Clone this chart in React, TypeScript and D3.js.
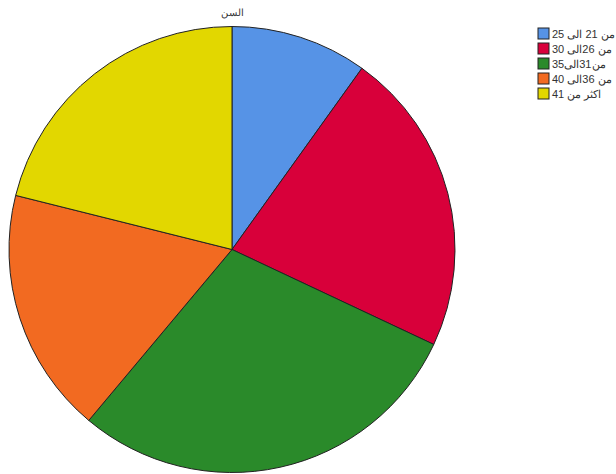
import React from "react";
import * as d3 from "d3";

const categories = ["من 21 الى 25", "من 26الى 30", "من31الى35", "من 36الى 40", "اكثر من 41"];
const values = [9.9, 22.1, 29.1, 17.8, 21.1];
const colors = ["#5693e6", "#d8003a", "#2a8a2a", "#f26a21", "#e2d700"];
const title = "السن";

export default function App() {
  const W = 616, H = 474;
  const cx = 232, cy = 249.5, r = 223;
  const pie = d3.pie<number>().sort(null).value((d) => d)(values);
  const arc = d3.arc<d3.PieArcDatum<number>>().innerRadius(0).outerRadius(r);
  return (
    <svg width={W} height={H} style={{ position: "absolute", left: 0, top: 0, background: "#fff" }}>
      <text x={232} y={16} textAnchor="middle" fontFamily="Liberation Sans, Arial, sans-serif" fontSize={10} fill="#333">{title}</text>
      <g transform={`translate(${cx},${cy})`}>
        {pie.map((p, i) => (
          <path key={i} d={arc(p) || ""} fill={colors[i]} stroke="#222" strokeWidth={1} />
        ))}
      </g>
      <g fontFamily="Liberation Sans, Arial, sans-serif" fontSize={11} fill="#333">
        {categories.map((c, i) => (
          <g key={i} transform={`translate(538,${28 + i * 15})`}>
            <rect x={0} y={0} width={11} height={11} fill={colors[i]} stroke="#222" strokeWidth={1} />
            <text x={14} y={10}>{c}</text>
          </g>
        ))}
      </g>
    </svg>
  );
}
